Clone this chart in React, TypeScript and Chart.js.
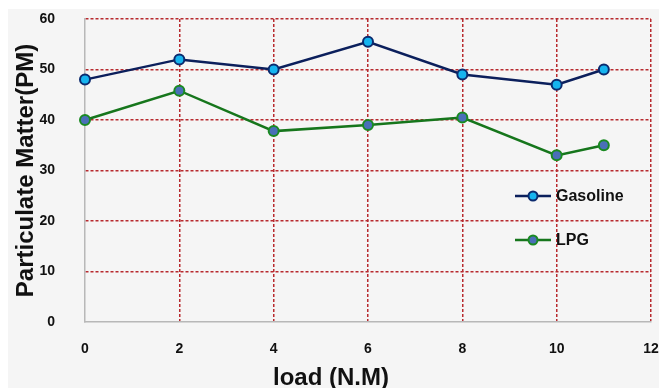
import { useEffect, useRef } from "react";
import { Chart, registerables } from "chart.js";

Chart.register(...registerables);

const loads = [0, 2, 4, 6, 8, 10, 11];
const gasoline = [48, 52, 50, 55.5, 49, 47, 50];
const lpg = [40, 45.8, 37.8, 39, 40.5, 33, 35];
const seriesNames = ["Gasoline", "LPG"];
const xTitle = "load (N.M)";
const yTitle = "Particulate Matter(PM)";
const xTicks = { min: 0, max: 12, step: 2 };
const yTicks = { min: 0, max: 60, step: 10 };

const FONT = "'Liberation Sans', Arial, sans-serif";
const GRID_RED = "#b82a2f";
const AXIS_GRAY = "#b8b8b8";

const styles = [
  { line: "#0b1f5c", fill: "#16b4ef", border: "#0b2a6e" },
  { line: "#16761c", fill: "#4a6fb8", border: "#1a8a22" },
];

const bgPlugin = {
  id: "bg",
  beforeDraw(chart: any) {
    const ctx = chart.ctx;
    ctx.save();
    ctx.fillStyle = "#ffffff";
    ctx.fillRect(0, 0, chart.width, chart.height);
    ctx.fillStyle = "#f5f5f5";
    ctx.fillRect(8, 9, chart.width - 8, chart.height - 9);
    ctx.restore();
  },
};

const xTitlePlugin = {
  id: "xTitle",
  afterDraw(chart: any) {
    const ctx = chart.ctx;
    ctx.save();
    ctx.fillStyle = "#111111";
    ctx.font = `bold 24px ${FONT}`;
    ctx.textAlign = "center";
    ctx.textBaseline = "middle";
    ctx.fillText(xTitle, 331, 378);
    ctx.restore();
  },
};

const legendPlugin = {
  id: "customLegend",
  afterDraw(chart: any) {
    const ctx = chart.ctx;
    const x0 = 515;
    const x1 = 551;
    const ys = [196, 240];
    ctx.save();
    seriesNames.forEach((name, i) => {
      const s = styles[i];
      const y = ys[i];
      ctx.strokeStyle = s.line;
      ctx.lineWidth = 2.5;
      ctx.beginPath();
      ctx.moveTo(x0, y);
      ctx.lineTo(x1, y);
      ctx.stroke();
      ctx.beginPath();
      ctx.arc((x0 + x1) / 2, y, 4.5, 0, Math.PI * 2);
      ctx.fillStyle = s.fill;
      ctx.fill();
      ctx.lineWidth = 2;
      ctx.strokeStyle = s.border;
      ctx.stroke();
      ctx.fillStyle = "#111111";
      ctx.font = `bold 16px ${FONT}`;
      ctx.textBaseline = "middle";
      ctx.textAlign = "left";
      ctx.fillText(name, 556, y + 1);
    });
    ctx.restore();
  },
};

const zeroPad = (s: any) => {
  s.paddingTop = 0;
  s.paddingBottom = 0;
  s.paddingLeft = 0;
  s.paddingRight = 0;
};

export default function App() {
  const ref = useRef<HTMLCanvasElement | null>(null);

  useEffect(() => {
    if (!ref.current) return;
    const seriesData = [gasoline, lpg];
    const chart = new Chart(ref.current, {
      type: "line",
      data: {
        datasets: seriesNames.map((name, i) => ({
          label: name,
          data: loads.map((x, j) => ({ x, y: seriesData[i][j] })),
          borderColor: styles[i].line,
          borderWidth: 2.5,
          pointRadius: 5,
          pointBorderWidth: 2,
          pointBackgroundColor: styles[i].fill,
          pointBorderColor: styles[i].border,
          tension: 0,
          clip: false as any,
        })),
      },
      options: {
        animation: false,
        responsive: false,
        devicePixelRatio: 1,
        layout: { padding: { left: 0, right: 8, top: 19, bottom: 0 } },
        plugins: {
          legend: { display: false },
          tooltip: { enabled: false },
        },
        scales: {
          x: {
            type: "linear",
            min: xTicks.min,
            max: xTicks.max,
            afterFit: (s: any) => {
              s.height = 66;
              zeroPad(s);
            },
            ticks: {
              stepSize: xTicks.step,
              color: "#111",
              padding: 19,
              font: { family: FONT, size: 14, weight: "bold" },
            },
            grid: {
              drawTicks: false,
              color: (c: any) => (c.tick && c.tick.value === 0 ? "rgba(0,0,0,0)" : GRID_RED),
              lineWidth: 1.5,
            },
            border: { display: true, color: AXIS_GRAY, width: 1.5, dash: [3, 2] as any },
            title: { display: false },
          },
          y: {
            type: "linear",
            min: yTicks.min,
            max: yTicks.max,
            afterFit: (s: any) => {
              s.width = 85;
              zeroPad(s);
            },
            ticks: {
              stepSize: yTicks.step,
              color: "#111",
              padding: 30,
              font: { family: FONT, size: 14, weight: "bold" },
            },
            grid: {
              drawTicks: false,
              color: (c: any) => (c.tick && c.tick.value === 0 ? "rgba(0,0,0,0)" : GRID_RED),
              lineWidth: 1.5,
            },
            border: { display: true, color: AXIS_GRAY, width: 1.5, dash: [3, 2] as any },
            title: {
              display: true,
              text: yTitle,
              color: "#111",
              padding: { top: 12, bottom: 0 },
              font: { family: FONT, size: 24, weight: "bold", lineHeight: 1.2 },
            },
          },
        },
      },
      plugins: [bgPlugin, legendPlugin, xTitlePlugin],
    } as any);
    return () => chart.destroy();
  }, []);

  return (
    <div style={{ position: "absolute", left: 0, top: 0, width: 659, height: 388 }}>
      <canvas ref={ref} width={659} height={388} />
    </div>
  );
}
